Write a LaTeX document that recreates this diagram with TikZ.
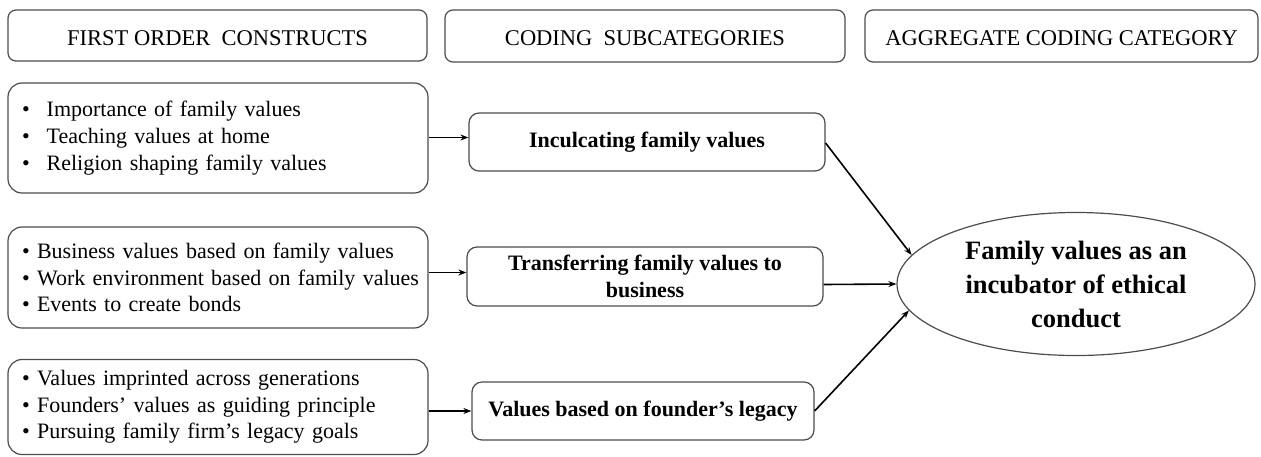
\documentclass[tikz,border=0pt]{standalone}
\usepackage{fontspec}
\setmainfont{Liberation Serif}
\usetikzlibrary{shapes.geometric,arrows.meta}
\begin{document}
\begin{tikzpicture}[x=1pt,y=-1pt,
  hdr/.style={draw=black!70,line width=1.2pt,rounded corners=8pt,font=\fontsize{22.5}{26}\selectfont,inner sep=0pt,text height=19pt,text depth=0pt},
  lst/.style={draw=black!70,line width=1.2pt,rounded corners=14pt,font=\fontsize{22}{26.7}\selectfont,align=left,inner xsep=8pt,inner ysep=0pt,text width=404pt,minimum width=420pt},
  mid/.style={draw=black!70,line width=1.2pt,rounded corners=10pt,font=\bfseries\fontsize{22}{27}\selectfont,align=center,inner sep=0pt},
  goal/.style={draw=black!70,line width=1.2pt,ellipse,inner sep=0pt,align=center,font=\bfseries\fontsize{26.5}{34}\selectfont},
  arr/.style={line width=1.6pt,-{Stealth[length=8pt,width=6pt]}}]
\useasboundingbox (0,0) rectangle (1261,456);

\node[hdr,minimum width=419pt,minimum height=51pt] (h1) at (217.5,35.5) {FIRST ORDER\ \ CONSTRUCTS};
\node[hdr,minimum width=400pt,minimum height=52pt] (h2) at (645,36) {CODING\ \ SUBCATEGORIES};
\node[hdr,minimum width=393pt,minimum height=52pt] (h3) at (1061.5,36) {AGGREGATE CODING CATEGORY};

\node[lst,minimum height=110pt] (A) at (218,138) {\hspace*{6pt}\textbullet\hspace{17pt}Importance of family values\\\hspace*{6pt}\textbullet\hspace{17pt}Teaching values at home\\\hspace*{6pt}\textbullet\hspace{17pt}Religion shaping family values};
\node[lst,minimum height=101pt] (B) at (218,277.5) {\hspace*{6pt}\textbullet\ Business values based on family values\\\hspace*{6pt}\textbullet\ Work environment based on family values\\\hspace*{6pt}\textbullet\ Events to create bonds};
\node[lst,minimum height=95pt] (C) at (218,407) {\hspace*{6pt}\textbullet\ Values imprinted across generations\\\hspace*{6pt}\textbullet\ Founders’ values as guiding principle\\\hspace*{6pt}\textbullet\ Pursuing family firm’s legacy goals};

\node[mid,minimum width=356pt,minimum height=58pt] (M1) at (647,142) {Inculcating family values};
\node[mid,minimum width=356pt,minimum height=59pt] (M2) at (645,276.5) {Transferring family values to\\business};
\node[mid,minimum width=342pt,minimum height=58pt] (M3) at (643,411) {Values based on founder’s legacy};

\node[goal,minimum width=358pt,minimum height=143pt] (E) at (1076,284) {Family values as an\\incubator of ethical\\conduct};

\draw[arr] ([yshift=0.5pt]A.east) -- ([yshift=0.5pt]A.east -| M1.west);
\draw[arr] ([yshift=5pt]B.east) -- ([yshift=5pt]B.east -| M2.west);
\draw[arr] (C.east |- M3.west) -- (M3.west);

\draw[arr] ([yshift=-1pt]M1.east) -- (E.170);
\draw[arr] ([yshift=-8pt]M2.east) -- (E.west);
\draw[arr] (M3.east) -- (E.189);
\end{tikzpicture}
\end{document}
